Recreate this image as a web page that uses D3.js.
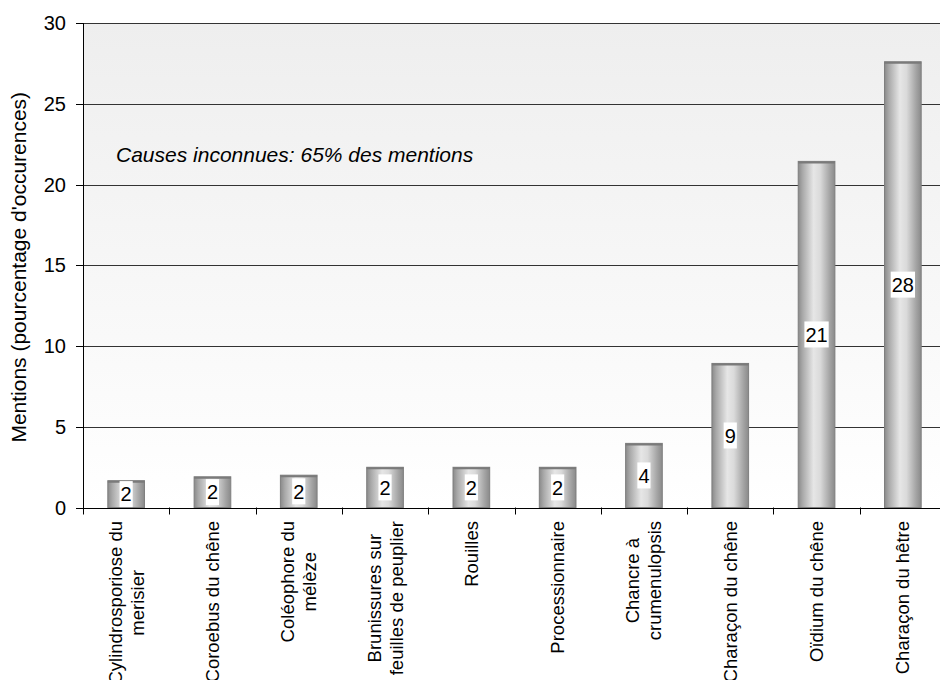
<!DOCTYPE html>
<html>
<head>
<meta charset="utf-8">
<script src="https://cdn.jsdelivr.net/npm/d3@7"></script>
<style>
  html, body { margin: 0; padding: 0; background: #fff; }
  svg { display: block; font-family: Arial, "Liberation Sans", sans-serif; }
</style>
</head>
<body>
<svg id="chart" width="940" height="680"></svg>
<script>
// Categories (each entry is a list of label lines)
const categories = [
  ["Cylindrosporiose du", "merisier"],
  ["Coroebus du chêne"],
  ["Coléophore du", "mélèze"],
  ["Brunissures sur", "feuilles de peuplier"],
  ["Rouilles"],
  ["Processionnaire"],
  ["Chancre à", "crumenulopsis"],
  ["Charaçon du chêne"],
  ["Oïdium du chêne"],
  ["Charaçon du hêtre"]
];
// Share of mentions, in percent of occurrences
const values = [1.66, 1.9, 2.0, 2.49, 2.49, 2.49, 3.97, 8.92, 21.43, 27.6];
const yTicks = [0, 5, 10, 15, 20, 25, 30];
const yTitle = "Mentions (pourcentage d'occurences)";
const note = "Causes inconnues: 65% des mentions";

const svg = d3.select("#chart");
const plotLeft = 83, plotRight = 946, plotTop = 23, plotBottom = 507.5;

const x = d3.scaleBand()
  .domain(d3.range(categories.length))
  .range([plotLeft, plotRight])
  .paddingInner(0.575)
  .paddingOuter(0.2875);
const y = d3.scaleLinear().domain([0, 30]).range([plotBottom, plotTop]);

const defs = svg.append("defs");
const bg = defs.append("linearGradient").attr("id", "bg")
  .attr("x1", 0).attr("y1", 0).attr("x2", 0).attr("y2", 1);
bg.append("stop").attr("offset", 0).attr("stop-color", "#eeeeee");
bg.append("stop").attr("offset", 1).attr("stop-color", "#ffffff");

const cyl = defs.append("linearGradient").attr("id", "cyl")
  .attr("x1", 0).attr("y1", 0).attr("x2", 1).attr("y2", 0);
[[0, "#8a8a8a"], [0.12, "#a9a9a9"], [0.42, "#e6e6e6"], [0.6, "#dadada"],
 [0.86, "#a4a4a4"], [1, "#8a8a8a"]]
  .forEach(([o, c]) => cyl.append("stop").attr("offset", o).attr("stop-color", c));

// Plot background
svg.append("rect")
  .attr("x", plotLeft).attr("y", plotTop)
  .attr("width", plotRight - plotLeft).attr("height", plotBottom - plotTop)
  .attr("fill", "url(#bg)");

// Horizontal gridlines
svg.append("g").selectAll("line")
  .data(yTicks.filter(d => d > 0))
  .join("line")
  .attr("x1", plotLeft).attr("x2", plotRight)
  .attr("y1", d => Math.round(y(d)) + 0.5).attr("y2", d => Math.round(y(d)) + 0.5)
  .attr("stroke", "#333").attr("stroke-width", 1);

// Note
svg.append("text")
  .attr("x", 116).attr("y", 162)
  .attr("font-size", 21).attr("font-style", "italic").attr("fill", "#000")
  .text(note);

// Bars
const bars = svg.append("g");
bars.selectAll("rect")
  .data(values)
  .join("rect")
  .attr("x", (d, i) => x(i))
  .attr("y", d => y(d))
  .attr("width", x.bandwidth())
  .attr("height", d => y(0) - y(d))
  .attr("fill", "url(#cyl)")
  .attr("stroke", "#7f7f7f").attr("stroke-width", 1);
bars.selectAll("line.cap")
  .data(values)
  .join("line").attr("class", "cap")
  .attr("x1", (d, i) => x(i)).attr("x2", (d, i) => x(i) + x.bandwidth())
  .attr("y1", d => y(d) + 1).attr("y2", d => y(d) + 1)
  .attr("stroke", "#7a7a7a").attr("stroke-width", 2);

// Value labels on white boxes
const fmt = d3.format(".0f");
const lab = svg.append("g").selectAll("g")
  .data(values)
  .join("g")
  .attr("transform", (d, i) => `translate(${x(i) + x.bandwidth() / 2},${(y(d) + y(0)) / 2})`);
lab.append("rect").attr("fill", "#fff");
lab.append("text")
  .attr("text-anchor", "middle").attr("dy", "0.36em")
  .attr("font-size", 20).attr("fill", "#000")
  .text(d => fmt(d));
lab.each(function () {
  const g = d3.select(this);
  const w = g.select("text").node().getComputedTextLength();
  g.select("rect").attr("x", -w / 2 - 1).attr("y", -13).attr("width", w + 2).attr("height", 26);
});

// Y axis
const yAxis = svg.append("g");
yAxis.append("line")
  .attr("x1", plotLeft + 0.5).attr("x2", plotLeft + 0.5).attr("y1", plotTop).attr("y2", plotBottom + 0.5)
  .attr("stroke", "#000");
yAxis.selectAll("line.tick")
  .data(yTicks)
  .join("line").attr("class", "tick")
  .attr("x1", plotLeft - 7).attr("x2", plotLeft)
  .attr("y1", d => Math.round(y(d)) + 0.5).attr("y2", d => Math.round(y(d)) + 0.5)
  .attr("stroke", "#000");
yAxis.selectAll("text")
  .data(yTicks)
  .join("text")
  .attr("x", plotLeft - 17).attr("y", d => y(d)).attr("dy", "0.36em")
  .attr("text-anchor", "end").attr("font-size", 20).attr("fill", "#000")
  .text(d => d);

svg.append("text")
  .attr("transform", `translate(26,${(plotTop + plotBottom) / 2 + 2}) rotate(-90)`)
  .attr("text-anchor", "middle").attr("font-size", 21).attr("fill", "#000")
  .text(yTitle);

// X axis
const step = x.step();
const xAxis = svg.append("g");
xAxis.append("line")
  .attr("x1", plotLeft).attr("x2", plotRight)
  .attr("y1", Math.round(plotBottom) + 0.5).attr("y2", Math.round(plotBottom) + 0.5)
  .attr("stroke", "#000");
xAxis.selectAll("line.tick")
  .data(d3.range(categories.length + 1))
  .join("line").attr("class", "tick")
  .attr("x1", i => Math.round(plotLeft + i * step) + 0.5).attr("x2", i => Math.round(plotLeft + i * step) + 0.5)
  .attr("y1", plotBottom).attr("y2", plotBottom + 7)
  .attr("stroke", "#000");

// Category labels, rotated, lines centred on each other
const catFs = 18.5, lh = 22;
const cat = svg.append("g").selectAll("g")
  .data(categories)
  .join("g")
  .attr("transform", (d, i) => `translate(${x(i) + x.bandwidth() / 2},521) rotate(-90)`);
cat.each(function (lines) {
  const g = d3.select(this);
  const t = g.selectAll("text").data(lines).join("text")
    .attr("font-size", catFs).attr("fill", "#000")
    .attr("text-anchor", "middle")
    .attr("y", (l, k) => (k - (lines.length - 1) / 2) * lh + 0.35 * catFs)
    .text(l => l);
  const maxW = d3.max(t.nodes(), n => n.getComputedTextLength());
  t.attr("x", -maxW / 2);
});
</script>
</body>
</html>
